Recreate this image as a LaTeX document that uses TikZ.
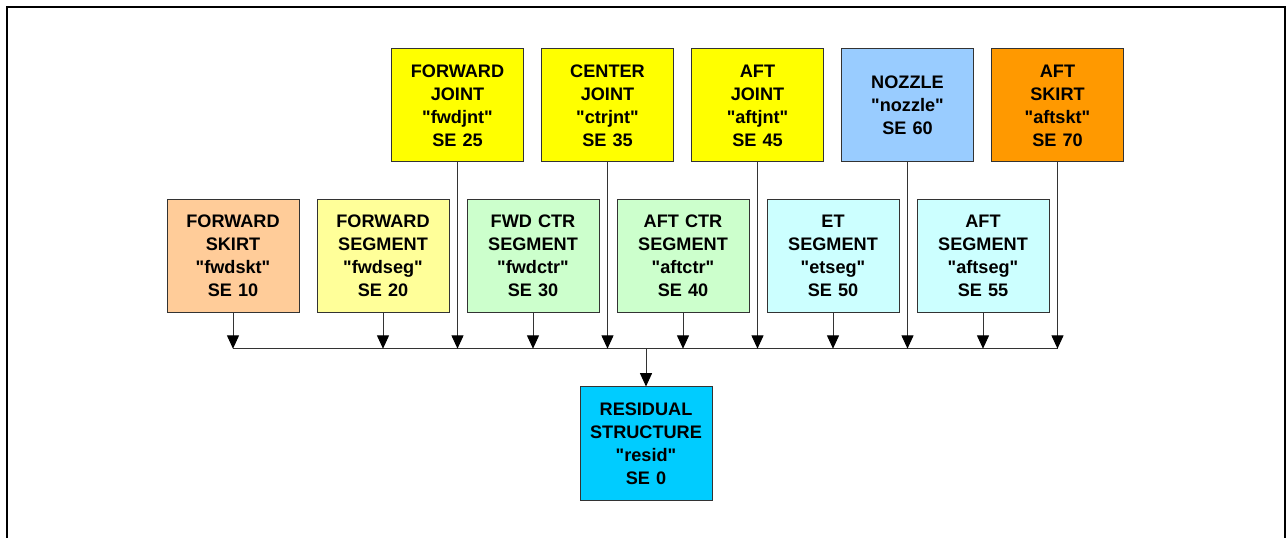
\documentclass[tikz,border=0pt]{standalone}
\usepackage{fontspec}
\setmainfont{Liberation Sans}
\usetikzlibrary{arrows.meta}
\definecolor{cSkirt}{HTML}{FFCC99}
\definecolor{cFseg}{HTML}{FFFF99}
\definecolor{cCtr}{HTML}{CCFFCC}
\definecolor{cEt}{HTML}{CCFFFF}
\definecolor{cJnt}{HTML}{FFFF00}
\definecolor{cNoz}{HTML}{99CCFF}
\definecolor{cAskt}{HTML}{FF9900}
\definecolor{cRes}{HTML}{00CCFF}
\definecolor{lineGray}{HTML}{333333}
\newcommand{\qt}[1]{\textquotedbl#1\textquotedbl}
\tikzset{
  sebox/.style={draw=lineGray, line width=0.75pt, inner sep=0pt,
    minimum width=99pt, minimum height=84.75pt, text width=99pt,
    align=center, font=\bfseries\fontsize{13.6}{17.25}\selectfont},
  feed/.style={draw=lineGray, line width=0.75pt,
    -{Triangle[length=10pt,width=9pt,fill=black,color=black]}},
  busline/.style={draw=lineGray, line width=0.75pt}
}
\begin{document}
\begin{tikzpicture}[x=0.75pt,y=-0.75pt]
\useasboundingbox (0,0) rectangle (1286,538);
\draw[line width=1.5pt] (7,545) -- (7,7) -- (1284.5,7) -- (1284.5,545);
% top row
\node[sebox, fill=cJnt] (fj) at (457.5,105.5) {FORWARD\\JOINT\\\qt{fwdjnt}\\SE 25};
\node[sebox, fill=cJnt] (cj) at (607.5,105.5) {CENTER\\JOINT\\\qt{ctrjnt}\\SE 35};
\node[sebox, fill=cJnt] (aj) at (757.5,105.5) {AFT\\JOINT\\\qt{aftjnt}\\SE 45};
\node[sebox, fill=cNoz] (nz) at (907.5,105.5) {NOZZLE\\\qt{nozzle}\\SE 60};
\node[sebox, fill=cAskt] (ak) at (1057.5,105.5) {AFT\\SKIRT\\\qt{aftskt}\\SE 70};
% middle row
\node[sebox, fill=cSkirt] (fs) at (233,256) {FORWARD\\SKIRT\\\qt{fwdskt}\\SE 10};
\node[sebox, fill=cFseg] (fg) at (383,256) {FORWARD\\SEGMENT\\\qt{fwdseg}\\SE 20};
\node[sebox, fill=cCtr] (fc) at (533,256) {FWD CTR\\SEGMENT\\\qt{fwdctr}\\SE 30};
\node[sebox, fill=cCtr] (ac) at (683,256) {AFT CTR\\SEGMENT\\\qt{aftctr}\\SE 40};
\node[sebox, fill=cEt] (et) at (833,256) {ET\\SEGMENT\\\qt{etseg}\\SE 50};
\node[sebox, fill=cEt] (as) at (983,256) {AFT\\SEGMENT\\\qt{aftseg}\\SE 55};
% residual
\node[sebox, fill=cRes] (rs) at (646,443.5) {RESIDUAL\\STRUCTURE\\\qt{resid}\\SE 0};
% bus
\coordinate (bus) at (646,348.7);
\draw[busline] (fs.south |- bus) -- (ak.south |- bus);
\foreach \n in {fs,fg,fc,ac,et,as,fj,cj,aj,nz,ak}{
  \draw[feed] (\n.south) -- (\n.south |- bus);
}
\draw[feed] (bus) -- (rs.north);
\end{tikzpicture}
\end{document}
